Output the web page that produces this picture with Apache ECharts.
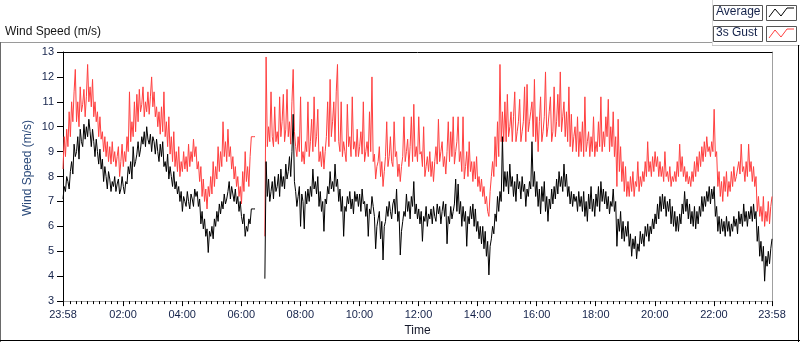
<!DOCTYPE html>
<html>
<head>
<meta charset="utf-8">
<script src="https://cdn.jsdelivr.net/npm/echarts@6/dist/echarts.min.js"></script>
<style>
html,body{margin:0;padding:0;background:#fff;}
#chart{width:800px;height:342px;}
</style>
</head>
<body>
<div id="chart"></div>
<script>
// ---- data (minutes after the 23:58 start, one sample every 2.5 min) ----
var startMinute = -2;
var stepMinutes = 2.5;
var seriesNames = ['Average', '3s Gust'];
var tickMinutes = [-2, 120, 240, 360, 480, 600, 720, 840, 960, 1080, 1200, 1320, 1438];
var tickLabels = ['23:58', '02:00', '04:00', '06:00', '08:00', '10:00', '12:00', '14:00', '16:00', '18:00', '20:00', '22:00', '23:58'];

var average = [
7.1,7.6,7.4,8.0,7.8,7.5,8.2,8.6,8.1,9.3,8.8,9.0,9.6,8.7,9.9,9.4,9.2,10.1,9.5,10.0,
9.6,10.3,9.8,9.2,9.9,9.4,8.8,9.5,9.0,8.5,9.1,8.3,8.7,7.8,8.4,8.0,7.5,8.2,7.9,7.4,
7.8,7.6,8.0,7.4,7.7,7.9,7.3,7.5,8.0,7.6,7.3,7.8,7.7,8.4,8.1,8.6,7.9,9.2,8.4,8.6,
8.9,9.4,8.8,9.1,9.6,9.3,9.8,9.2,10.0,9.5,9.3,9.7,9.0,9.6,9.4,8.9,9.5,9.0,8.6,9.3,
8.8,9.4,8.4,8.6,8.2,8.9,7.9,8.4,8.0,7.6,8.2,7.5,7.8,7.3,7.6,7.0,7.4,6.6,7.2,7.0,
6.8,7.4,7.0,6.7,7.3,7.1,6.8,7.5,7.2,7.4,6.8,7.1,6.1,6.6,5.9,6.3,5.6,5.9,4.95,5.8,
5.6,6.0,5.5,6.3,6.0,6.6,6.2,6.9,6.5,7.0,6.7,7.3,6.9,7.1,7.4,7.8,7.1,7.6,7.3,7.0,
7.5,6.9,7.2,6.6,7.0,6.4,6.1,6.5,5.6,6.0,5.8,6.3,6.1,6.7,6.7,6.7,6.7,null,null,null,
null,null,null,null,3.9,8.6,7.2,7.9,7.0,7.4,7.8,7.1,8.0,7.4,7.6,8.1,7.2,8.3,7.6,8.0,
7.5,8.5,7.9,8.2,8.8,8.0,9.0,10.5,7.8,7.4,6.8,7.2,7.6,6.0,7.3,7.0,5.9,7.4,6.9,7.5,
7.0,7.6,7.2,8.3,7.5,7.8,7.3,8.0,6.8,7.4,6.6,7.0,5.8,7.1,6.9,7.6,7.3,8.2,7.5,7.8,
7.4,8.5,7.6,7.9,7.0,7.5,6.6,7.2,5.6,6.8,6.6,7.2,6.9,7.4,6.7,7.1,6.5,7.4,7.0,7.3,
6.8,7.3,6.6,7.5,6.9,7.0,6.4,6.9,5.6,6.7,6.5,7.2,6.8,6.4,5.1,6.0,6.3,6.6,5.5,6.2,
4.65,6.0,6.2,6.8,6.4,7.0,6.6,6.3,6.9,7.1,6.5,7.5,6.2,6.6,4.85,5.8,6.2,6.6,6.4,7.3,
6.6,7.0,6.3,7.2,6.8,7.8,6.5,6.9,6.3,6.7,6.1,6.6,5.4,6.4,6.2,6.8,6.0,6.5,6.3,6.7,
6.1,6.8,6.4,6.2,6.9,6.5,6.8,6.1,6.6,7.0,6.4,6.9,5.3,6.4,6.1,6.8,6.3,6.6,6.9,7.9,
6.6,7.7,6.5,7.0,6.0,6.8,6.2,6.6,5.2,6.4,6.1,6.8,6.3,6.9,6.0,6.7,5.8,6.2,5.5,6.0,
5.3,6.0,5.1,5.8,4.8,5.4,4.05,5.2,5.5,6.0,5.7,6.5,6.2,7.2,6.6,7.4,7.0,9.6,7.4,8.2,
7.6,8.2,7.3,8.5,7.6,8.0,7.2,7.8,7.0,8.1,7.5,7.8,7.1,8.0,7.4,7.7,6.8,7.5,7.2,7.8,
7.5,9.4,7.6,8.2,7.2,7.8,6.8,7.5,6.5,7.6,7.0,7.8,6.6,7.2,6.2,7.1,6.7,7.5,6.9,7.6,
7.1,7.9,7.3,8.2,7.6,8.0,7.4,8.5,7.6,8.1,7.2,7.6,6.9,7.4,6.8,7.3,7.0,7.2,6.6,7.4,
6.8,7.2,6.6,7.4,6.4,7.0,6.2,7.3,6.7,7.6,6.6,7.1,6.4,7.3,6.8,7.6,6.6,7.8,7.0,7.5,
6.9,7.4,6.7,7.2,6.5,7.0,6.8,7.5,6.6,7.0,5.2,6.3,5.8,6.6,5.5,6.2,5.4,6.0,5.6,6.2,
5.2,5.7,4.8,5.5,5.1,5.6,4.7,5.3,5.0,5.8,5.3,5.7,5.2,6.0,5.6,6.1,5.4,6.0,5.7,6.3,
5.9,6.5,6.1,6.9,6.3,7.2,6.6,7.3,6.7,7.2,6.4,7.0,6.6,7.1,6.1,6.8,6.0,6.6,5.8,6.4,
5.8,6.5,6.1,6.9,6.5,7.4,6.6,7.1,6.3,6.9,6.1,6.6,6.0,6.8,5.9,6.6,6.1,6.8,6.4,7.2,
6.6,7.2,6.8,7.4,7.0,7.6,6.9,7.5,7.1,7.6,6.4,6.8,5.8,6.4,5.7,6.3,5.8,6.2,5.6,6.4,
5.8,6.2,5.6,6.1,5.8,6.4,6.0,6.3,5.7,6.6,6.1,6.5,6.0,6.9,6.2,6.6,6.0,6.6,6.3,6.8,
6.2,6.9,6.3,6.6,5.4,6.0,4.8,5.4,4.6,5.2,3.8,4.8,4.4,5.0,4.5,5.1,5.5
];

var gust = [
8.3,9.6,8.8,9.9,9.2,10.6,9.6,11.0,10.2,11.4,12.3,10.2,11.0,10.0,11.6,10.6,10.9,11.5,10.4,11.2,
12.5,11.0,11.6,10.8,11.9,10.4,11.0,10.2,10.6,9.6,10.4,9.5,9.8,9.0,9.6,8.8,9.4,8.6,9.2,8.5,
9.4,8.6,9.0,8.4,8.8,9.2,8.0,8.6,9.3,8.4,9.0,8.6,9.6,9.0,11.4,9.4,10.2,9.6,11.0,9.8,
11.3,10.2,11.5,10.6,10.9,11.6,10.4,11.0,10.6,11.4,10.5,11.2,12.0,10.8,11.4,10.4,10.8,10.0,10.6,9.7,
10.8,9.8,11.4,9.6,10.2,9.2,10.4,8.9,9.6,8.6,9.8,8.4,9.0,8.2,9.2,8.0,8.6,8.2,9.0,8.3,
8.8,8.2,9.3,8.4,9.0,8.6,9.5,8.8,9.2,8.3,8.6,7.8,8.4,7.2,7.9,7.0,7.5,6.7,7.6,7.2,
8.0,7.3,8.6,7.6,8.4,7.9,9.2,8.2,9.0,8.4,10.2,8.8,9.4,8.6,9.9,8.8,9.2,8.3,8.8,7.9,
8.4,7.6,8.0,7.2,7.6,6.9,8.2,7.4,9.0,7.8,8.4,7.6,8.8,9.6,9.6,9.6,9.6,null,null,null,
null,null,null,null,5.6,12.8,9.2,10.0,9.4,11.4,9.6,9.2,10.8,9.4,9.8,9.3,11.2,9.6,10.2,11.3,
9.4,9.9,11.5,9.6,10.2,9.3,11.0,12.3,9.8,9.2,8.8,9.6,9.0,11.2,8.6,9.0,8.5,9.4,9.0,11.0,
8.8,9.4,10.3,9.0,11.2,9.2,9.6,10.7,8.6,9.0,8.4,9.2,8.3,9.0,9.6,11.0,9.2,11.9,9.6,10.2,
11.0,9.4,11.4,12.5,9.4,9.0,11.0,8.8,9.4,9.0,8.6,10.9,9.2,9.6,8.8,11.2,9.1,9.4,8.8,9.9,
8.8,9.2,9.8,8.9,11.0,8.6,9.0,9.4,8.8,10.6,9.0,12.0,8.6,8.9,7.9,8.4,8.6,9.2,8.0,8.6,
7.6,8.2,8.8,10.2,8.4,8.8,9.6,8.6,8.4,10.2,8.8,9.0,8.0,8.5,7.8,8.4,8.8,10.4,8.6,9.0,
9.5,8.4,9.2,10.4,8.6,10.9,8.8,9.2,8.6,10.4,8.9,9.0,8.4,10.0,8.0,8.4,8.8,8.2,9.0,8.0,
8.6,7.8,8.6,9.2,8.5,10.3,8.6,9.0,9.4,8.4,8.8,8.1,9.0,10.2,8.6,9.8,8.8,10.4,8.5,9.0,
9.4,10.4,8.6,9.0,8.2,10.4,7.9,8.4,9.0,8.0,9.4,8.2,8.6,7.8,8.6,7.9,8.8,7.6,8.0,7.4,
7.9,7.2,7.6,6.9,7.2,6.6,6.4,7.4,8.0,8.6,8.0,9.6,8.4,10.2,8.8,12.5,9.4,10.6,9.4,11.0,
9.4,11.3,9.6,10.0,10.6,9.4,10.4,11.4,9.4,9.8,10.2,11.1,9.4,9.8,10.2,11.6,9.4,11.7,9.8,10.2,
10.6,11.0,9.6,11.9,9.4,10.4,9.0,10.2,11.2,9.4,9.8,10.4,12.2,9.6,10.0,10.6,11.2,9.4,9.8,11.6,
9.6,10.2,11.3,10.0,12.2,9.8,10.4,11.0,9.6,10.6,9.4,11.6,9.2,10.5,9.0,9.6,10.0,9.0,10.4,8.8,
9.8,9.0,10.2,8.8,11.2,9.0,9.4,9.8,8.8,9.6,9.0,10.4,8.8,9.4,9.0,10.2,9.2,11.2,9.0,9.8,
9.2,10.4,9.6,11.1,9.0,10.0,9.2,10.6,8.8,9.6,7.6,10.3,8.2,9.2,7.8,8.6,7.4,8.4,7.2,7.8,
7.2,8.0,7.4,8.2,7.2,7.8,7.6,8.6,7.4,8.0,7.6,8.2,7.8,8.6,8.0,9.4,8.2,8.6,8.0,8.8,
8.2,9.0,8.4,8.8,8.0,8.6,8.0,8.4,7.8,9.0,8.0,8.2,7.8,8.4,7.6,8.0,7.8,8.2,7.8,8.6,
8.0,9.3,8.2,8.8,8.0,8.4,7.8,8.2,7.7,8.0,7.6,8.2,7.8,8.6,8.0,8.8,8.2,9.0,8.4,9.2,
8.6,9.4,8.8,9.6,9.0,9.2,8.8,9.4,9.0,10.7,8.8,9.0,7.6,8.2,7.2,7.8,7.0,8.0,7.4,8.2,
7.2,7.8,7.4,8.2,7.6,8.4,7.8,8.0,8.0,8.6,8.1,9.3,8.2,8.4,7.8,8.6,8.0,9.3,8.2,8.6,
7.8,8.4,7.6,8.0,6.6,7.2,6.4,6.8,6.2,7.2,6.0,6.6,6.2,7.0,6.1,6.8,7.2
];

// ---- build ----
function toPairs(arr) {
  return arr.map(function (v, i) { return [startMinute + i * stepMinutes, v]; });
}
var minorTicks = [];
for (var m = 0; m <= 1428; m += 12) {
  if (m % 120 !== 0) minorTicks.push(m);
}
var labelMap = {};
tickMinutes.forEach(function (t, i) { labelMap[t] = tickLabels[i]; });

var FONT = '"Liberation Sans", Arial, sans-serif';
var chart = echarts.init(document.getElementById('chart'), null, { renderer: 'canvas' });

chart.setOption({
  animation: false,
  backgroundColor: '#ffffff',
  grid: { left: 63, top: 52, width: 709, height: 251, containLabel: false },
  xAxis: [
    {
      type: 'value', min: -2, max: 1438, position: 'bottom',
      axisLine: { show: true, onZero: false, lineStyle: { color: '#a0a0a0', width: 1 } },
      axisTick: { show: true, customValues: tickMinutes, length: 5, lineStyle: { color: '#000' } },
      axisLabel: {
        customValues: tickMinutes, margin: 8, fontSize: 11, fontFamily: FONT, color: '#14224a',
        formatter: function (v) { return labelMap[v] !== undefined ? labelMap[v] : ''; }
      },
      splitLine: { show: false },
      name: 'Time', nameLocation: 'middle', nameGap: 22,
      nameTextStyle: { fontSize: 12, fontFamily: FONT, color: '#14182a' }
    },
    {
      type: 'value', min: -2, max: 1438, position: 'bottom', gridIndex: 0,
      axisLine: { show: false, onZero: false },
      axisTick: { show: true, customValues: minorTicks, length: 3, lineStyle: { color: '#000' } },
      axisLabel: { show: false },
      splitLine: { show: false }
    },
    {
      type: 'value', min: -2, max: 1438, position: 'top', gridIndex: 0,
      axisLine: { show: true, onZero: false, lineStyle: { color: '#000', width: 1 } },
      axisTick: { show: false }, axisLabel: { show: false }, splitLine: { show: false }
    }
  ],
  yAxis: [
    {
      type: 'value', min: 3, max: 13, interval: 1, position: 'left',
      axisLine: { show: true, onZero: false, lineStyle: { color: '#000', width: 1 } },
      axisTick: { show: true, length: 6, lineStyle: { color: '#000' } },
      axisLabel: { margin: 9, fontSize: 11, fontFamily: FONT, color: '#14224a' },
      splitLine: { show: false }
    },
    {
      type: 'value', min: 3, max: 13, position: 'right',
      axisLine: { show: true, onZero: false, lineStyle: { color: '#a0a0a0', width: 1 } },
      axisTick: { show: false }, axisLabel: { show: false }, splitLine: { show: false }
    }
  ],
  series: [
    {
      name: seriesNames[1], type: 'line', data: toPairs(gust), xAxisIndex: 0, yAxisIndex: 0,
      showSymbol: false, symbol: 'none', connectNulls: false, sampling: null,
      lineStyle: { color: '#ff4040', width: 1 }, itemStyle: { color: '#ff4040' }, z: 2
    },
    {
      name: seriesNames[0], type: 'line', data: toPairs(average), xAxisIndex: 0, yAxisIndex: 0,
      showSymbol: false, symbol: 'none', connectNulls: false, sampling: null,
      lineStyle: { color: '#000000', width: 1 }, itemStyle: { color: '#000000' }, z: 3
    }
  ],
  graphic: [
    { type: 'text', left: 5, top: 26, style: { text: 'Wind Speed (m/s)', font: '12px ' + FONT, fill: '#151515' } },
    { type: 'line', shape: { x1: 0, y1: 42.5, x2: 712, y2: 42.5 }, style: { stroke: '#9a9a9a', lineWidth: 1 } },
    { type: 'line', shape: { x1: 712.5, y1: 0, x2: 712.5, y2: 45 }, style: { stroke: '#d8d8d8', lineWidth: 1 } },
    { type: 'line', shape: { x1: 712, y1: 45.5, x2: 800, y2: 45.5 }, style: { stroke: '#c8c8c8', lineWidth: 1 } },
    { type: 'line', shape: { x1: 772.5, y1: 52, x2: 772.5, y2: 303 }, style: { stroke: '#a0a0a0', lineWidth: 1 } },
    { type: 'line', shape: { x1: 0.5, y1: 42, x2: 0.5, y2: 342 }, style: { stroke: '#6a6a6a', lineWidth: 1 } },
    { type: 'line', shape: { x1: 0, y1: 340.5, x2: 800, y2: 340.5 }, style: { stroke: '#000', lineWidth: 1 } },
    { type: 'line', shape: { x1: 798.5, y1: 45, x2: 798.5, y2: 342 }, style: { stroke: '#000', lineWidth: 1 } },
    // legend: Average
    { type: 'rect', shape: { x: 713.5, y: 5.5, width: 49, height: 15 }, style: { fill: '#fff', stroke: '#555', lineWidth: 1 } },
    { type: 'text', left: 716, top: 6, style: { text: seriesNames[0], font: '12px ' + FONT, fill: '#14224a' } },
    { type: 'rect', shape: { x: 766.5, y: 5.5, width: 30, height: 15 }, style: { fill: '#fff', stroke: '#555', lineWidth: 1 } },
    { type: 'polyline', shape: { points: [[769, 17], [775, 9], [781, 16], [787, 8], [794, 8]] }, style: { stroke: '#000', lineWidth: 1, fill: null } },
    // legend: 3s Gust
    { type: 'rect', shape: { x: 713.5, y: 26.5, width: 49, height: 15 }, style: { fill: '#fff', stroke: '#555', lineWidth: 1 } },
    { type: 'text', left: 716, top: 27, style: { text: seriesNames[1], font: '12px ' + FONT, fill: '#14224a' } },
    { type: 'rect', shape: { x: 766.5, y: 26.5, width: 30, height: 15 }, style: { fill: '#fff', stroke: '#555', lineWidth: 1 } },
    { type: 'polyline', shape: { points: [[769, 38], [775, 30], [781, 37], [787, 29], [794, 29]] }, style: { stroke: '#ff4040', lineWidth: 1, fill: null } },
    // y axis name
    { type: 'text', x: 28, y: 168, rotation: Math.PI / 2, style: { text: 'Wind Speed (m/s)', font: '12px ' + FONT, fill: '#2b4a7a', align: 'center', verticalAlign: 'middle' } }
  ]
});
</script>
</body>
</html>
